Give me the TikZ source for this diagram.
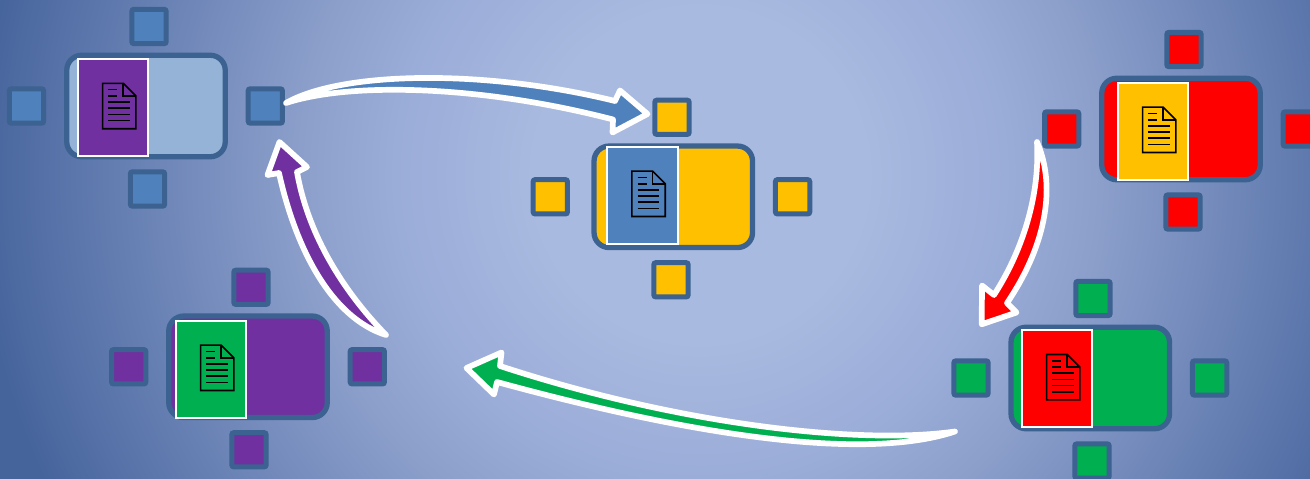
\documentclass[tikz,border=0pt]{standalone}
\definecolor{bgA}{HTML}{A9BAE0}
\definecolor{bgB}{HTML}{9AACD8}
\definecolor{bgC}{HTML}{8C9FCB}
\definecolor{bgD}{HTML}{627CB0}
\definecolor{bgE}{HTML}{46649C}
\definecolor{edgeblue}{HTML}{3B6290}
\definecolor{cblue}{HTML}{4F81BD}
\definecolor{clight}{HTML}{95B3D7}
\definecolor{cpurple}{HTML}{7030A0}
\definecolor{cyellow}{HTML}{FFC000}
\definecolor{cgreen}{HTML}{00B050}
\definecolor{cred}{HTML}{FF0000}
\pgfdeclareradialshading{bgshade}{\pgfpoint{0bp}{0bp}}{color(0bp)=(bgA); color(5.4bp)=(bgA); color(9.9bp)=(bgB); color(13bp)=(bgC); color(19.3bp)=(bgD); color(23.5bp)=(bgE); color(50bp)=(bgE)}
\tikzset{
  tablebox/.style={draw=edgeblue,line width=5.3pt,rounded corners=15pt,minimum width=158.5pt,minimum height=101.5pt,inner sep=0pt},
  seatbox/.style={draw=edgeblue,line width=5pt,rounded corners=2pt,minimum width=34.3pt,minimum height=34.3pt,inner sep=0pt},
  docbox/.style={draw=white,line width=1.9pt,minimum width=70.7pt,minimum height=96.8pt,inner sep=0pt},
  iconline/.style={draw=black,line width=1.6pt},
  flow/.style={draw=white,line width=5.7pt,line join=round,line cap=round}
}
\def\leftoff{119.5}
\def\docy{0}
% name, cx, cy, doc centre x, top seat x, bottom seat x, table fill, seat fill, doc fill
\newcommand{\tablegroup}[9]{%
  \node[tablebox,fill=#7] (#1table) at (#2,#3) {};
  \node[seatbox,fill=#8] (#1top) at (#5,#3-79.5) {};
  \node[seatbox,fill=#8] (#1bottom) at (#6,#3+83) {};
  \node[seatbox,fill=#8] (#1left) at (#2-\leftoff,#3) {};
  \node[seatbox,fill=#8] (#1right) at (#2+119.3,#3) {};
  \node[docbox,fill=#9] (#1doc) at (#4,\docy) {};
  \begin{scope}[shift={(#4+6.2,\docy-1.5)}]
    \draw[iconline,line join=miter] (-16.6,-22.7) -- (4,-22.7) -- (16.7,-10) -- (16.7,22.7) -- (-16.6,22.7) -- cycle;
    \draw[iconline] (4,-22.7) -- (4,-10) -- (16.7,-10);
    \draw[iconline] (-11,-16.4) -- (-2,-16.4);
    \draw[iconline] (-11,-10) -- (-2,-10);
    \draw[iconline] (-11,-4) -- (10.5,-4);
    \draw[iconline] (-11,2.2) -- (10.5,2.2);
    \draw[iconline] (-11,8.3) -- (10.5,8.3);
    \draw[iconline] (-11,14.6) -- (10.5,14.6);
  \end{scope}
}
\begin{document}
\begin{tikzpicture}[x=1pt,y=-1pt]
\useasboundingbox (0,0) rectangle (1310,479);
\clip (0,0) rectangle (1310,479);
\path[shading=bgshade] (700,175) circle (770);
\def\docy{107.5}
\tablegroup{a}{146}{106}{113}{149}{147.5}{clight}{cblue}{cpurple}
\def\leftoff{123}
\def\docy{195.3}
\tablegroup{b}{673.3}{196.8}{642.3}{672}{671}{cyellow}{cyellow}{cblue}
\def\leftoff{119.3}
\def\docy{131.3}
\tablegroup{c}{1181}{129}{1153}{1184}{1183}{cred}{cred}{cyellow}
\def\docy{378.7}
\tablegroup{d}{1090.3}{378}{1057}{1093}{1092}{cgreen}{cgreen}{cred}
\def\docy{369.3}
\tablegroup{e}{248}{366.8}{211}{251}{249}{cpurple}{cpurple}{cgreen}
% blue arrow
\coordinate (bTail) at (286,103);
\coordinate (bTip) at (647.5,114);
\path[flow,fill=cblue] (bTail) .. controls (340,72) and (480,68) .. (615,101) -- (620,90.5) -- (bTip) -- (612.5,132.5) -- (613,119.5) .. controls (480,85) and (350,82) .. (bTail) -- cycle;
% red arrow
\coordinate (rTail) at (1037,142);
\coordinate (rTip) at (981.7,324.3);
\path[flow,fill=cred] (rTail) .. controls (1058,190) and (1043,250) .. (1007,303) -- (1016.5,312.5) -- (rTip) -- (982,285.5) -- (994,295) .. controls (1023,250) and (1040,195) .. (rTail) -- cycle;
% green arrow
\coordinate (gTail) at (955,431.5);
\coordinate (gTip) at (466.5,368);
\path[flow,fill=cgreen] (gTail) .. controls (860,445) and (680,425) .. (500,366) -- (501.5,352.5) -- (gTip) -- (494,394.5) -- (497,382) .. controls (680,432) and (860,463) .. (gTail) -- cycle;
% purple arrow
\coordinate (pTail) at (386,335);
\coordinate (pTip) at (279.5,142);
\path[flow,fill=cpurple] (pTail) .. controls (332,318) and (296,250) .. (279,173) -- (267.5,175) -- (pTip) -- (307,167) -- (297,172) .. controls (309,240) and (348,296) .. (pTail) -- cycle;
\end{tikzpicture}
\end{document}
